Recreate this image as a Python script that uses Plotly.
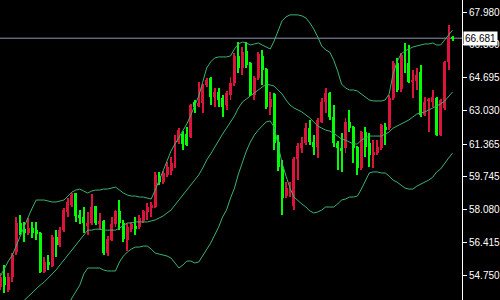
import plotly.graph_objects as go

# ---- data ----
opens = [54.19,54.69,54.04,54.69,55.95,57.41,57.10,56.90,57.15,57.05,
         56.90,54.95,55.45,55.25,56.70,56.30,57.05,57.96,58.31,58.91,
         57.81,57.71,57.25,57.41,58.26,57.36,57.51,55.90,56.55,57.36,
         58.01,57.41,56.55,57.10,57.25,57.20,57.51,57.96,58.21,58.21,
         59.76,59.46,59.82,60.02,60.22,61.47,61.87,61.87,61.72,63.48,
         63.28,63.43,64.33,64.68,63.73,63.98,63.68,63.33,63.83,64.43,
         65.79,65.19,66.04,65.44,63.83,64.68,65.79,65.14,63.23,63.88,
         61.47,60.22,58.76,59.01,58.26,60.62,61.17,61.42,62.17,61.47,
         61.22,62.48,63.48,63.93,62.73,61.42,61.17,61.17,62.48,62.22,
         61.22,60.17,61.97,61.42,60.82,60.92,61.17,62.22,62.17,63.68,
         65.44,64.13,65.74,65.44,64.53,64.53,64.99,62.83,63.53,63.48,
         63.68,61.82,63.18,65.49,66.70]
highs = [54.90,55.30,54.90,55.90,57.71,57.81,57.46,57.66,57.46,57.46,
         56.95,55.70,55.80,56.80,57.05,57.20,58.16,58.66,58.91,58.91,
         58.06,58.21,57.96,58.86,58.26,57.91,57.56,56.75,57.71,58.06,
         58.56,57.56,57.41,57.46,57.71,57.81,58.06,58.41,58.46,59.97,
         59.97,60.02,60.47,60.72,61.82,62.17,62.02,62.22,63.38,63.58,
         64.48,64.38,64.68,64.73,64.18,64.18,63.83,64.03,64.73,65.94,
         66.49,66.24,66.49,65.49,64.78,65.99,66.09,65.19,63.98,63.93,
         61.82,60.57,59.46,59.46,60.72,61.42,61.72,62.43,62.58,61.82,
         62.68,63.68,64.18,63.98,63.33,61.52,61.92,62.68,63.08,62.27,
         61.27,62.02,62.22,61.92,61.57,61.57,62.38,62.43,63.83,65.54,
         65.69,65.94,66.44,66.34,65.09,65.19,65.34,63.73,63.68,64.08,
         63.73,63.63,65.54,67.35,66.79]
lows = [54.04,53.89,53.94,54.44,55.80,56.80,56.45,56.80,56.65,56.55,
        54.90,54.90,55.05,55.20,55.70,56.20,56.95,57.71,58.21,57.46,
        57.36,56.90,56.80,57.30,57.30,57.05,55.80,55.75,56.50,57.20,
        57.05,56.45,56.00,56.95,56.80,57.10,57.41,57.56,57.71,58.16,
        59.31,59.36,59.71,59.82,60.17,61.37,61.07,61.27,61.67,62.93,
        63.23,62.93,64.23,63.33,63.23,63.23,62.73,63.08,63.58,64.28,
        64.94,64.84,65.19,63.78,63.58,64.58,64.33,63.13,62.83,61.07,
        60.02,57.81,58.66,58.71,58.06,59.56,60.92,61.32,61.32,60.82,
        60.67,62.43,62.93,62.58,61.22,60.07,59.97,60.92,61.97,60.42,
        59.82,60.07,60.72,60.22,60.17,60.82,61.07,61.32,62.07,63.58,
        63.98,63.98,64.94,64.43,63.68,64.08,62.73,62.78,61.97,63.23,
        61.77,61.77,63.08,65.09,66.54]
closes = [54.69,54.29,54.69,55.80,57.41,56.95,56.90,57.15,56.90,56.85,
          54.95,55.45,55.30,56.70,56.30,57.05,58.06,58.46,58.81,57.76,
          57.66,57.41,57.41,58.21,57.41,57.51,55.90,56.60,57.36,58.01,
          57.41,56.60,57.20,57.36,57.15,57.66,58.01,58.21,58.31,59.82,
          59.46,59.92,60.22,60.42,61.77,62.07,61.37,61.32,63.33,63.23,
          63.43,64.23,64.58,63.73,63.98,63.58,63.23,63.93,64.43,65.79,
          65.19,65.99,65.34,63.83,64.68,65.89,65.09,63.23,63.63,61.42,
          60.22,58.66,59.16,59.26,60.62,61.27,61.42,62.17,61.47,61.22,
          62.58,63.48,63.93,62.73,61.42,61.17,61.07,62.48,62.17,61.17,
          60.17,61.97,61.22,60.82,60.97,61.22,62.33,62.12,63.68,65.44,
          64.08,65.84,65.44,64.48,64.58,64.84,62.83,63.48,63.58,63.73,
          61.82,63.58,65.49,66.69,66.681]

bb_upper = [54.75,55.15,55.50,55.80,56.30,56.80,57.25,57.71,58.16,58.56,
            58.56,58.56,58.51,58.46,58.46,58.51,58.56,58.76,58.96,59.06,
            59.11,59.01,58.91,59.01,59.06,59.06,59.11,59.11,59.16,59.21,
            59.06,58.91,58.81,58.76,58.76,58.71,58.71,58.66,58.61,59.06,
            59.51,60.02,60.52,61.02,61.37,61.72,62.07,62.38,62.83,63.28,
            63.78,64.48,65.19,65.49,65.69,65.74,65.74,65.74,65.79,66.14,
            66.39,66.49,66.44,66.34,66.39,66.44,66.34,66.24,66.14,66.54,
            67.09,67.55,67.75,67.85,67.85,67.85,67.80,67.70,67.45,67.14,
            66.74,66.29,66.09,65.99,65.59,65.04,64.38,64.18,64.08,64.08,
            64.03,63.88,63.73,63.58,63.53,63.53,63.53,63.58,63.88,64.89,
            65.49,65.89,66.04,66.14,66.24,66.29,66.34,66.39,66.39,66.44,
            66.34,66.34,66.59,66.84,67.09]
bb_middle = [52.44,52.64,52.84,52.99,53.19,53.34,53.54,53.69,53.89,54.09,
             54.29,54.44,54.64,54.85,55.05,55.30,55.55,55.80,56.05,56.35,
             56.60,56.85,57.05,57.05,57.10,57.10,57.05,57.05,57.05,57.05,
             57.15,57.30,57.41,57.41,57.46,57.46,57.46,57.46,57.51,57.56,
             57.66,57.76,57.91,58.06,58.31,58.56,58.81,59.06,59.26,59.51,
             59.82,60.17,60.57,60.87,61.22,61.52,61.87,62.17,62.48,62.78,
             63.18,63.48,63.63,63.78,63.93,64.08,64.23,64.38,64.33,64.28,
             64.08,63.88,63.58,63.33,63.18,63.08,62.98,62.83,62.68,62.48,
             62.27,62.17,62.07,62.02,61.92,61.77,61.62,61.57,61.47,61.37,
             61.37,61.57,61.67,61.77,61.77,61.77,61.77,61.87,61.97,62.17,
             62.27,62.38,62.48,62.58,62.73,62.88,62.93,62.98,63.08,63.18,
             63.28,63.38,63.53,63.73,63.98]
bb_lower = [50.13,50.13,50.18,50.18,50.08,49.88,49.83,49.68,49.62,49.62,
            50.03,50.33,50.78,51.23,51.63,52.08,52.64,53.29,53.64,53.94,
            54.29,54.85,55.15,55.15,55.15,55.15,55.05,55.00,55.00,55.00,
            55.45,55.75,55.95,56.10,56.20,56.20,56.25,56.25,56.10,55.90,
            55.85,55.80,55.75,55.65,55.40,55.15,55.30,55.50,55.50,55.40,
            55.45,55.75,56.05,56.40,56.80,57.20,57.71,58.06,58.66,59.16,
            59.87,60.47,61.02,61.47,61.82,62.07,62.27,62.48,62.53,62.22,
            61.32,60.42,59.76,59.16,58.71,58.51,58.36,58.21,58.01,57.91,
            57.96,58.06,58.21,58.21,58.21,58.36,58.56,58.61,58.71,58.71,
            58.76,59.11,59.56,59.92,59.97,59.97,59.92,59.92,59.76,59.56,
            59.46,59.31,59.16,59.11,59.11,59.26,59.36,59.46,59.56,59.71,
            59.97,60.12,60.42,60.67,60.92]

tick_vals = [67.980, 66.360, 64.695, 63.030, 61.365, 59.745, 58.080, 56.415, 54.750]
current_price = 66.681

# ---- styling ----
UP = "#DC143C"
DOWN = "#00FF00"
BAND = "#3CB371"

n = len(opens)
idx = list(range(n))
colors = [UP if c >= o else DOWN for o, c in zip(opens, closes)]
body_base = [min(o, c) for o, c in zip(opens, closes)]
body_h = [max(abs(c - o), 0.05) for o, c in zip(opens, closes)]
wick_base = lows
wick_h = [h - l for h, l in zip(highs, lows)]

fig = go.Figure()
for band in (bb_upper, bb_middle, bb_lower):
    fig.add_trace(go.Scatter(x=idx, y=band, mode="lines",
                             line=dict(color=BAND, width=1), hoverinfo="skip"))
fig.add_trace(go.Bar(x=idx, y=wick_h, base=wick_base, width=0.25,
                     marker=dict(color=colors, line=dict(width=0)), hoverinfo="skip"))
fig.add_trace(go.Bar(x=idx, y=body_h, base=body_base, width=0.75,
                     marker=dict(color=colors, line=dict(width=0)), hoverinfo="skip"))

fig.add_shape(type="line", xref="paper", x0=0, x1=1, yref="y",
              y0=current_price, y1=current_price,
              line=dict(color="#8A96A8", width=1), layer="below")

fig.add_annotation(xref="paper", x=1, xanchor="left", xshift=1,
                   yref="y", y=current_price, yanchor="middle",
                   text=f"{current_price:.3f}", showarrow=False,
                   font=dict(family="Liberation Sans, Arial", size=10, color="#000000"),
                   bgcolor="#FFFFFF", borderpad=1)

fig.update_layout(
    width=500, height=300,
    margin=dict(l=0, r=34, t=0, b=0),
    paper_bgcolor="#000000", plot_bgcolor="#000000",
    showlegend=False, barmode="overlay", bargap=0,
)
fig.update_xaxes(range=[-0.125, -0.125 + 466 / 4], visible=False, fixedrange=True)
fig.update_yaxes(range=[53.544, 68.597], side="right",
                 tickvals=tick_vals, ticktext=[f"{v:.3f}" for v in tick_vals],
                 showgrid=False, zeroline=False,
                 showline=True, linecolor="#FFFFFF", linewidth=1,
                 ticks="outside", ticklen=4, tickcolor="#FFFFFF",
                 tickfont=dict(family="Liberation Sans, Arial", size=10, color="#FFFFFF"))

fig.write_html("out.html")
